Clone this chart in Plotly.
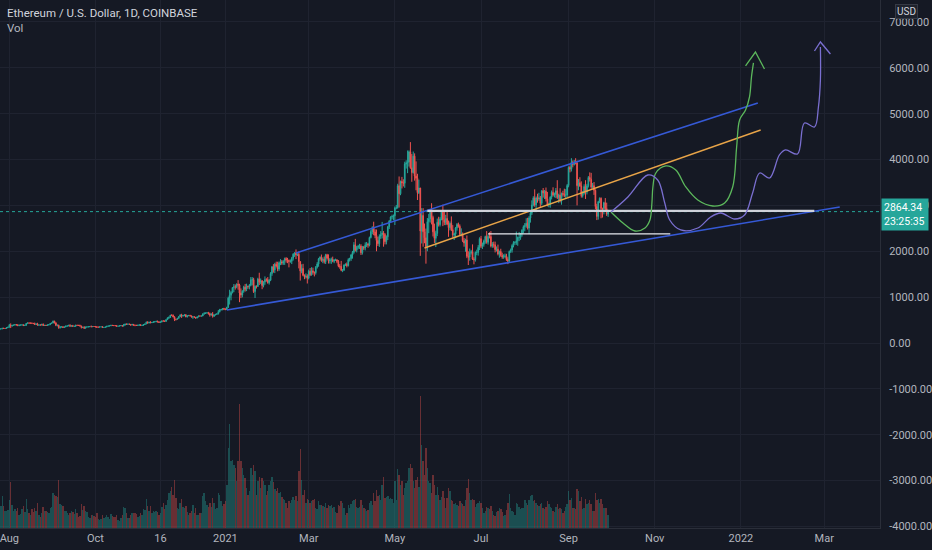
"""
ETH/USD daily candles (Coinbase) with volume and hand-drawn projections,
styled after a TradingView dark-theme snapshot.
"""

import pandas as pd
import plotly.graph_objects as go

# ---------------------------------------------------------------------------
# Data (daily, from 2020-07-24) - closes in USD, wicks in USD, volume in k ETH
# ---------------------------------------------------------------------------
START_DATE = "2020-07-24"
FIRST_OPEN = 279
LAST_PRICE = 2864.34
COUNTDOWN = "23:25:35"

CLOSE = [
    280, 306, 310, 321, 317, 317, 335, 345,  # Jul 2020
    386, 371, 386, 390, 401, 395, 379, 391, 391, 395, 380, 387, 428, 437, 433, 433,
    429, 424, 406, 416, 388, 395, 391, 408, 382, 386, 381, 395, 399, 428, 435,  # Aug
    478, 440, 385, 387, 335, 353, 353, 337, 351, 368, 374, 387, 366, 377, 364,
    365, 389, 385, 384, 371, 340, 344, 321, 349, 352, 354, 357, 354, 360, 359,  # Sep
    353, 346, 346, 352, 353, 340, 341, 350, 365, 370, 375, 386, 381, 379, 377, 366,
    368, 377, 379, 368, 392, 413, 409, 412, 406, 393, 404, 388, 386, 383, 386,  # Oct
    396, 383, 387, 402, 415, 455, 436, 454, 444, 449, 462, 462, 475, 461, 447,
    460, 481, 479, 471, 509, 549, 558, 607, 604, 568, 518, 517, 538, 575, 615,  # Nov
    587, 598, 616, 569, 596, 601, 592, 567, 573, 560, 545, 568, 590, 587, 589, 636,
    643, 654, 659, 639, 609, 635, 583, 612, 626, 635, 683, 730, 732, 751, 737,  # Dec
    730, 775, 979, 1041, 1101, 1208, 1225, 1224, 1281, 1262, 1090, 1044, 1130, 1218,
    1171, 1233, 1230, 1257, 1377, 1382, 1121, 1236, 1233, 1392, 1324, 1357, 1253,
    1331, 1382, 1377, 1314,  # Jan 2021
    1369, 1515, 1660, 1594, 1718, 1677, 1613, 1748, 1769, 1743, 1784, 1842, 1812,
    1800, 1779, 1781, 1848, 1937, 1960, 1920, 1935, 1777, 1571, 1626, 1475, 1446,
    1459, 1417,  # Feb
    1565, 1488, 1573, 1540, 1532, 1654, 1723, 1835, 1869, 1800, 1826, 1772, 1924,
    1853, 1792, 1806, 1823, 1780, 1808, 1810, 1780, 1681, 1670, 1585, 1590, 1700,
    1716, 1688, 1817, 1840, 1919,  # Mar
    1977, 2140, 2025, 2085, 2110, 2113, 1968, 2087, 2069, 2134, 2153, 2137, 2300,
    2430, 2515, 2420, 2345, 2235, 2165, 2330, 2360, 2400, 2365, 2210, 2315, 2534,
    2660, 2748, 2757, 2772,  # Apr
    2945, 2950, 3431, 3253, 3522, 3490, 3484, 3903, 3924, 3948, 4169, 3820, 3715,
    4075, 3640, 3590, 3278, 3381, 2440, 2780, 2425, 2295, 2100, 2645, 2705, 2888,
    2736, 2423, 2282, 2390, 2633,  # May
    2580, 2705, 2855, 2688, 2630, 2715, 2590, 2515, 2610, 2470, 2355, 2375, 2510,
    2585, 2545, 2365, 2370, 2230, 2180, 2245, 1890, 1875, 1970, 1990, 1830, 1815,
    1975, 1975, 2085, 2275,  # Jun
    2110, 2150, 2225, 2320, 2195, 2325, 2320, 2115, 2150, 2140, 2035, 2045, 1940,
    1995, 1910, 1875, 1895, 1895, 1820, 1785, 1995, 2030, 2125, 2190, 2190, 2230,
    2300, 2300, 2380, 2460, 2535,  # Jul
    2555, 2610, 2505, 2725, 2830, 3010, 3160, 3010, 3165, 3140, 3165, 3045, 3320,
    3270, 3310, 3145, 3010, 3020, 3180, 3285, 3225, 3240, 3320, 3170, 3225, 3105,
    3260, 3245, 3220, 3225, 3435,  # Aug
    3830, 3790, 3940, 3890, 3950, 3925, 3430, 3495, 3425, 3210, 3265, 3410, 3290,
    3430, 3610, 3570, 3400, 3430, 3330, 2975, 2760, 3080, 3155, 2930, 2925, 3060,
    2930, 2810, LAST_PRICE,  # Sep
]

UPPER_WICK = [
    5, 4, 6, 8, 10, 6, 5, 6,
    30, 42, 10, 8, 8, 12, 16, 6, 8, 12, 12, 8, 4, 10, 11, 8,
    12, 8, 21, 8, 24, 6, 6, 5, 18, 6, 10, 6, 6, 4, 8,
    10, 5, 8, 15, 12, 5, 6, 16, 4, 10, 4, 3, 22, 3, 18,
    6, 4, 5, 6, 15, 6, 4, 24, 6, 5, 5, 8, 24, 8, 4,
    8, 8, 4, 3, 3, 14, 5, 4, 3, 10, 5, 8, 8, 7, 6, 12,
    3, 2, 6, 12, 24, 5, 8, 10, 9, 6, 15, 12, 8, 8, 11,
    6, 12, 6, 6, 4, 12, 20, 5, 20, 4, 6, 10, 4, 12, 10,
    6, 6, 14, 10, 6, 6, 20, 5, 18, 18, 16, 6, 6, 6, 4,
    22, 14, 6, 8, 4, 6, 14, 6, 4, 10, 5, 5, 4, 10, 6, 6,
    30, 10, 8, 20, 24, 4, 40, 6, 6, 10, 36, 14, 10, 8, 16,
    20, 15, 30, 120, 30, 10, 60, 50, 20, 90, 30, 100, 20, 30,
    70, 60, 20, 30, 60, 55, 40, 20, 20, 30, 140, 50, 15,
    15, 70, 30, 60,
    25, 30, 20, 60, 30, 55, 95, 30, 60, 40, 20, 20, 30,
    45, 20, 40, 30, 20, 20, 80, 20, 60, 0, 90, 100, 20,
    60, 40,
    35, 70, 80, 70, 20, 25, 40, 20, 20, 60, 40, 60, 20,
    20, 80, 40, 40, 60, 20, 30, 20, 30, 40, 120, 20, 15,
    20, 40, 30, 20, 20,
    30, 60, 130, 30, 30, 50, 40, 30, 30, 60, 50, 30, 20,
    40, 30, 130, 60, 130, 80, 40, 80, 240, 40, 30, 30, 20,
    20, 15, 40, 30,
    30, 60, 40, 200, 20, 100, 80, 50, 60, 250, 30, 211, 300,
    100, 60, 320, 100, 180, 0, 160, 160, 180, 200, 80, 110, 30,
    160, 40, 180, 60, 80,
    120, 40, 40, 160, 180, 80, 140, 80, 40, 150, 100, 30, 20,
    30, 40, 40, 130, 40, 60, 30, 100, 110, 90, 40, 160, 40,
    20, 60, 50, 30,
    60, 40, 30, 20, 120, 40, 90, 120, 50, 60, 70, 60, 100,
    20, 60, 60, 40, 55, 50, 50, 20, 30, 30, 30, 30, 200,
    20, 120, 20, 20, 30,
    60, 110, 120, 40, 50, 100, 40, 190, 30, 90, 110, 40, 10,
    60, 25, 80, 150, 40, 20, 40, 110, 40, 60, 230, 30, 150,
    20, 60, 120, 130, 30,
    20, 40, 90, 40, 40, 80, 50, 80, 120, 100, 50, 50, 140,
    40, 30, 110, 140, 60, 80, 20, 60, 20, 20, 20, 20, 20,
    100, 130, 40,
]

LOWER_WICK = [
    6, 3, 8, 10, 9, 8, 7, 9,
    10, 45, 14, 6, 8, 12, 10, 12, 8, 8, 8, 10, 10, 7, 10, 8,
    8, 12, 8, 10, 6, 10, 6, 10, 6, 10, 10, 6, 8, 6, 12,
    5, 14, 18, 23, 25, 20, 14, 4, 6, 6, 10, 8, 8, 6, 6,
    8, 12, 8, 4, 6, 24, 15, 6, 4, 10, 6, 6, 8, 6, 6,
    11, 16, 6, 6, 6, 4, 5, 6, 6, 4, 6, 6, 8, 6, 8, 8,
    6, 6, 6, 6, 4, 8, 10, 8, 6, 16, 8, 10, 20, 8, 8,
    6, 6, 10, 15, 10, 4, 12, 6, 15, 10, 8, 8, 8, 12, 6,
    8, 10, 12, 14, 4, 4, 26, 8, 12, 8, 40, 26, 10, 6, 10,
    40, 10, 14, 6, 12, 10, 8, 10, 40, 6, 16, 6, 6, 8, 8, 4,
    20, 10, 6, 18, 35, 10, 30, 14, 10, 6, 12, 16, 24, 20, 20,
    15, 10, 10, 140, 110, 20, 100, 60, 30, 100, 200, 65, 50, 35,
    50, 40, 45, 60, 20, 120, 30, 140, 45, 10, 60, 40, 80,
    40, 60, 40, 20,
    40, 20, 50, 60, 70, 30, 50, 40, 50, 40, 40, 80, 60,
    60, 130, 30, 60, 50, 60, 90, 25, 150, 210, 50, 20, 55,
    40, 120,
    30, 30, 20, 50, 80, 40, 30, 60, 40, 30, 60, 40, 50,
    30, 60, 60, 80, 20, 40, 20, 40, 30, 50, 20, 40, 20,
    20, 40, 20, 40, 50,
    80, 30, 30, 50, 40, 60, 50, 40, 40, 50, 40, 60, 30,
    20, 60, 70, 60, 235, 50, 70, 60, 80, 265, 60, 60, 70,
    50, 40, 50, 80,
    200, 30, 20, 300, 30, 120, 70, 100, 100, 220, 100, 20, 200,
    20, 100, 260, 160, 30, 540, 270, 325, 120, 370, 100, 250, 80,
    150, 100, 100, 190, 60,
    40, 40, 30, 140, 60, 60, 20, 200, 60, 30, 60, 110, 90,
    60, 30, 30, 40, 30, 80, 190, 40, 175, 80, 40, 20, 100,
    40, 60, 70, 60,
    40, 60, 50, 60, 30, 50, 40, 30, 40, 60, 60, 40, 30,
    80, 30, 40, 40, 40, 30, 65, 30, 30, 60, 40, 50, 50,
    110, 80, 50, 60, 70,
    100, 40, 30, 130, 100, 40, 30, 40, 130, 80, 40, 80, 40,
    100, 130, 60, 30, 50, 70, 50, 30, 50, 80, 30, 120, 40,
    90, 50, 40, 70, 40,
    40, 70, 50, 60, 20, 30, 430, 100, 20, 40, 40, 30, 150,
    50, 40, 50, 40, 30, 100, 60, 80, 70, 30, 210, 190, 120,
    40, 40, 60,
]

VOLUME = [
    250, 270, 330, 480, 330, 250, 260, 270,
    420, 690, 350, 260, 280, 250, 300, 200, 210, 280, 330, 240, 430, 280, 220, 200,
    280, 240, 300, 250, 380, 200, 170, 230, 310, 250, 260, 240, 220, 300, 320,
    520, 500, 480, 460, 720, 360, 350, 330, 260, 250, 220, 190, 230, 260, 240,
    210, 290, 230, 170, 180, 360, 270, 330, 260, 240, 160, 150, 200, 190, 180,
    170, 220, 130, 120, 140, 190, 150, 160, 200, 170, 130, 210, 180, 170, 160, 190,
    120, 110, 150, 190, 320, 300, 220, 150, 150, 200, 220, 230, 220, 210, 160,
    180, 220, 200, 280, 270, 440, 330, 260, 330, 230, 250, 240, 260, 240, 200,
    230, 310, 380, 280, 340, 420, 520, 560, 620, 500, 720, 450, 300, 280, 380,
    440, 320, 300, 330, 240, 200, 220, 260, 350, 230, 300, 190, 200, 230, 220, 480,
    520, 400, 350, 320, 380, 320, 450, 380, 280, 300, 520, 500, 400, 330, 360,
    400, 650, 1200, 1560, 1000, 1020, 950, 900, 700, 1000, 1860, 1000, 900, 800,
    750, 600, 500, 550, 900, 800, 950, 850, 500, 700, 760, 600, 750,
    700, 650, 500, 550,
    650, 700, 760, 690, 580, 550, 600, 520, 540, 460, 430, 420, 380,
    300, 410, 380, 420, 460, 420, 480, 400, 850, 1180, 720, 500, 570,
    380, 430,
    420, 380, 400, 420, 430, 300, 280, 400, 350, 340, 330, 320, 380,
    300, 350, 330, 340, 300, 320, 240, 220, 350, 330, 400, 380, 300,
    200, 220, 340, 300, 360,
    400, 420, 440, 320, 300, 320, 420, 350, 300, 280, 260, 270, 380,
    400, 340, 520, 400, 570, 480, 500, 420, 640, 760, 450, 460, 480,
    430, 450, 440, 380,
    700, 420, 880, 800, 650, 700, 500, 600, 680, 700, 900, 960, 900,
    700, 600, 720, 760, 620, 1980, 1250, 1000, 800, 1200, 900, 700, 680,
    520, 800, 640, 500, 620,
    500, 420, 460, 560, 450, 300, 450, 600, 560, 420, 400, 360, 380,
    350, 330, 400, 380, 360, 330, 420, 600, 740, 520, 420, 440, 420,
    320, 360, 380, 400,
    380, 300, 220, 260, 320, 300, 280, 330, 260, 200, 180, 240, 260,
    300, 280, 240, 180, 190, 270, 380, 510, 300, 260, 240, 200, 380,
    360, 320, 280, 300, 300,
    420, 380, 340, 420, 480, 500, 400, 420, 380, 340, 330, 360, 380,
    300, 280, 320, 400, 360, 320, 300, 260, 240, 320, 360, 280, 300,
    280, 220, 260, 320, 360,
    560, 420, 450, 300, 300, 280, 580, 560, 400, 460, 280, 300, 440,
    360, 380, 420, 360, 260, 250, 530, 420, 440, 380, 440, 360, 300,
    300, 300, 200,
]

# Drawn trend lines: (date, price) endpoints
LOWER_CHANNEL = (["2021-01-02", "2022-03-12"], [720, 2966])
UPPER_CHANNEL = (["2021-02-20", "2022-01-13"], [1963, 5233])
MID_LINE = (["2021-05-22", "2022-01-15"], [2071, 4645])
TOP_LEVEL = (["2021-05-24", "2022-02-22"], [2880, 2880])
LOW_LEVEL = (["2021-07-06", "2021-11-12"], [2380, 2380])

# Hand-drawn projections: days after 2021-01-01 and price
GREEN_DAYS = [273.0, 281.5, 290.0, 297.1, 300.6, 302.0, 302.7, 304.8, 311.9, 318.9,
              326.0, 334.5, 345.1, 353.5, 359.2, 362.0, 364.1, 368.3, 371.1, 372.5, 373.9]
GREEN_PRICES = [2857, 2617, 2442, 2508, 2682, 3053, 3402, 3707, 3860, 3772,
                3402, 3118, 2987, 3053, 3402, 4274, 4863, 5081, 5364, 5800, 6106]
GREEN_ARROW_DAYS = [368.3, 375.3, 381.7]
GREEN_ARROW_PRICES = [6040, 6345, 5975]

PURPLE_DAYS = [273.0, 285.0, 299.1, 306.1, 311.1, 314.6, 322.4, 334.5, 343.6, 350.7,
               360.6, 367.6, 373.3, 378.3, 385.3, 392.3, 396.6, 405.1, 410.0, 417.1,
               419.9, 421.3, 421.3]
PURPLE_PRICES = [2857, 3184, 3663, 3554, 3053, 2682, 2464, 2508, 2748, 2835,
                 2704, 2791, 3271, 3707, 3598, 4100, 4209, 4121, 4797, 4710,
                 5146, 5735, 6455]
PURPLE_ARROW_DAYS = [417.1, 421.3, 428.4]
PURPLE_ARROW_PRICES = [6367, 6564, 6302]

X_TICK_DATES = ["2020-08-01", "2020-10-01", "2020-11-16", "2021-01-01", "2021-03-01",
                "2021-05-01", "2021-07-01", "2021-09-01", "2021-11-01", "2022-01-01",
                "2022-03-01"]
X_TICK_LABELS = ["Aug", "Oct", "16", "2021", "Mar", "May", "Jul", "Sep", "Nov", "2022", "Mar"]
Y_TICKS = [-4000, -3000, -2000, -1000, 0, 1000, 2000, 3000, 4000, 5000, 6000, 7000]
Y_TICK_LABELS = ["-4000.00", "-3000.00", "-2000.00", "-1000.00", "0.00", "1000.00",
                 "2000.00", "3000.00", "4000.00", "5000.00", "6000.00", "7000.00"]

# ---------------------------------------------------------------------------
n = len(CLOSE)
assert len(UPPER_WICK) == n and len(LOWER_WICK) == n and len(VOLUME) == n, (
    n, len(UPPER_WICK), len(LOWER_WICK), len(VOLUME))

dates = pd.date_range(START_DATE, periods=n, freq="D")
opens = [FIRST_OPEN] + CLOSE[:-1]
highs = [max(o, c) + u for o, c, u in zip(opens, CLOSE, UPPER_WICK)]
lows = [min(o, c) - w for o, c, w in zip(opens, CLOSE, LOWER_WICK)]

UP = "#26a69a"
DOWN = "#ef5350"
BG = "#151924"
GRID = "#1f2330"
TEXT = "#b2b5be"
FONT = "Roboto"

vol_colors = ["rgba(38,166,154,0.38)" if c >= o else "rgba(239,83,80,0.38)"
              for o, c in zip(opens, CLOSE)]


def day_dates(days):
    return pd.Timestamp("2021-01-01") + pd.to_timedelta(days, unit="D")


fig = go.Figure()

fig.add_trace(go.Bar(
    x=dates, y=VOLUME, marker=dict(color=vol_colors, line=dict(width=0)),
    yaxis="y2", hoverinfo="skip",
))

fig.add_trace(go.Candlestick(
    x=dates, open=opens, high=highs, low=lows, close=CLOSE,
    increasing=dict(line=dict(color=UP, width=1), fillcolor=UP),
    decreasing=dict(line=dict(color=DOWN, width=1), fillcolor=DOWN),
    whiskerwidth=0,
))

for (xs, ys), color, width in [
    (LOWER_CHANNEL, "#3559d6", 1.6),
    (UPPER_CHANNEL, "#3559d6", 1.6),
    (MID_LINE, "#e8a448", 1.4),
    (TOP_LEVEL, "#cfd2d9", 2.2),
    (LOW_LEVEL, "#e6e8ee", 1.4),
]:
    fig.add_trace(go.Scatter(x=xs, y=ys, mode="lines",
                             line=dict(color=color, width=width), hoverinfo="skip"))

fig.add_trace(go.Scatter(
    x=day_dates(GREEN_DAYS), y=GREEN_PRICES, mode="lines",
    line=dict(color="#5cb85c", width=1.3, shape="spline", smoothing=1.0), hoverinfo="skip",
))
fig.add_trace(go.Scatter(
    x=day_dates(GREEN_ARROW_DAYS), y=GREEN_ARROW_PRICES, mode="lines",
    line=dict(color="#5cb85c", width=1.3), hoverinfo="skip",
))
fig.add_trace(go.Scatter(
    x=day_dates(PURPLE_DAYS), y=PURPLE_PRICES, mode="lines",
    line=dict(color="#7a6fd0", width=1.3, shape="spline", smoothing=1.0), hoverinfo="skip",
))
fig.add_trace(go.Scatter(
    x=day_dates(PURPLE_ARROW_DAYS), y=PURPLE_ARROW_PRICES, mode="lines",
    line=dict(color="#7a6fd0", width=1.3), hoverinfo="skip",
))

# dotted last-price line, kept under the drawings
fig.add_hline(y=LAST_PRICE, line_dash="dot", line_color=UP, line_width=1, layer="below")

# legend text, top left
fig.add_annotation(x=0, y=1, xref="paper", yref="paper", xshift=5, yshift=-13,
                   xanchor="left", yanchor="middle", showarrow=False,
                   text="Ethereum / U.S. Dollar, 1D, COINBASE",
                   font=dict(family=FONT, size=11.5, color="#d1d4dc"))
fig.add_annotation(x=0, y=1, xref="paper", yref="paper", xshift=5, yshift=-28,
                   xanchor="left", yanchor="middle", showarrow=False,
                   text="Vol", font=dict(family=FONT, size=11.5, color=TEXT))

# currency badge and last price label on the right scale
fig.add_annotation(x=1, y=1, xref="paper", yref="paper", xshift=26, yshift=-11,
                   xanchor="center", yanchor="middle", showarrow=False,
                   text="USD", font=dict(family=FONT, size=10, color="#d1d4dc"),
                   bgcolor="#1e222d", bordercolor="#363a45", borderwidth=1, borderpad=1)
fig.add_annotation(x=1, y=LAST_PRICE, xref="paper", yref="y", xshift=1, yshift=-3,
                   xanchor="left", yanchor="middle", showarrow=False, align="left",
                   text=f"{LAST_PRICE:.2f}<br>{COUNTDOWN}",
                   font=dict(family=FONT, size=10.5, color="white"),
                   bgcolor=UP, width=42, borderpad=2)

fig.update_layout(
    width=932, height=550,
    margin=dict(l=0, r=49, t=0, b=22),
    paper_bgcolor=BG, plot_bgcolor=BG,
    showlegend=False, hovermode=False, bargap=0,
    font=dict(family=FONT, size=11, color=TEXT),
    xaxis=dict(
        type="date",
        range=["2020-07-25 10:00", "2022-04-09 12:00"],
        rangeslider=dict(visible=False),
        tickvals=X_TICK_DATES, ticktext=X_TICK_LABELS,
        ticklabeloverflow="allow",
        showgrid=True, gridcolor=GRID, gridwidth=1,
        showline=True, linecolor="#2a2e39", linewidth=1,
        ticks="", zeroline=False,
        tickfont=dict(family=FONT, size=11, color=TEXT),
    ),
    yaxis=dict(
        side="right",
        range=[-4034, 7479],
        tickvals=Y_TICKS, ticktext=Y_TICK_LABELS,
        showgrid=True, gridcolor=GRID, gridwidth=1,
        showline=True, linecolor="#2a2e39", linewidth=1,
        ticks="", zeroline=False, ticklabelstandoff=6,
        tickfont=dict(family=FONT, size=11, color=TEXT),
    ),
    yaxis2=dict(overlaying="y", range=[0, 7920], visible=False),
)

# the page body has a default 8px margin; drop it so the chart fills the window
fig.write_html(
    "out.html",
    config={"displayModeBar": False},
    post_script="document.body.style.margin='0';document.body.style.overflow='hidden';",
)
